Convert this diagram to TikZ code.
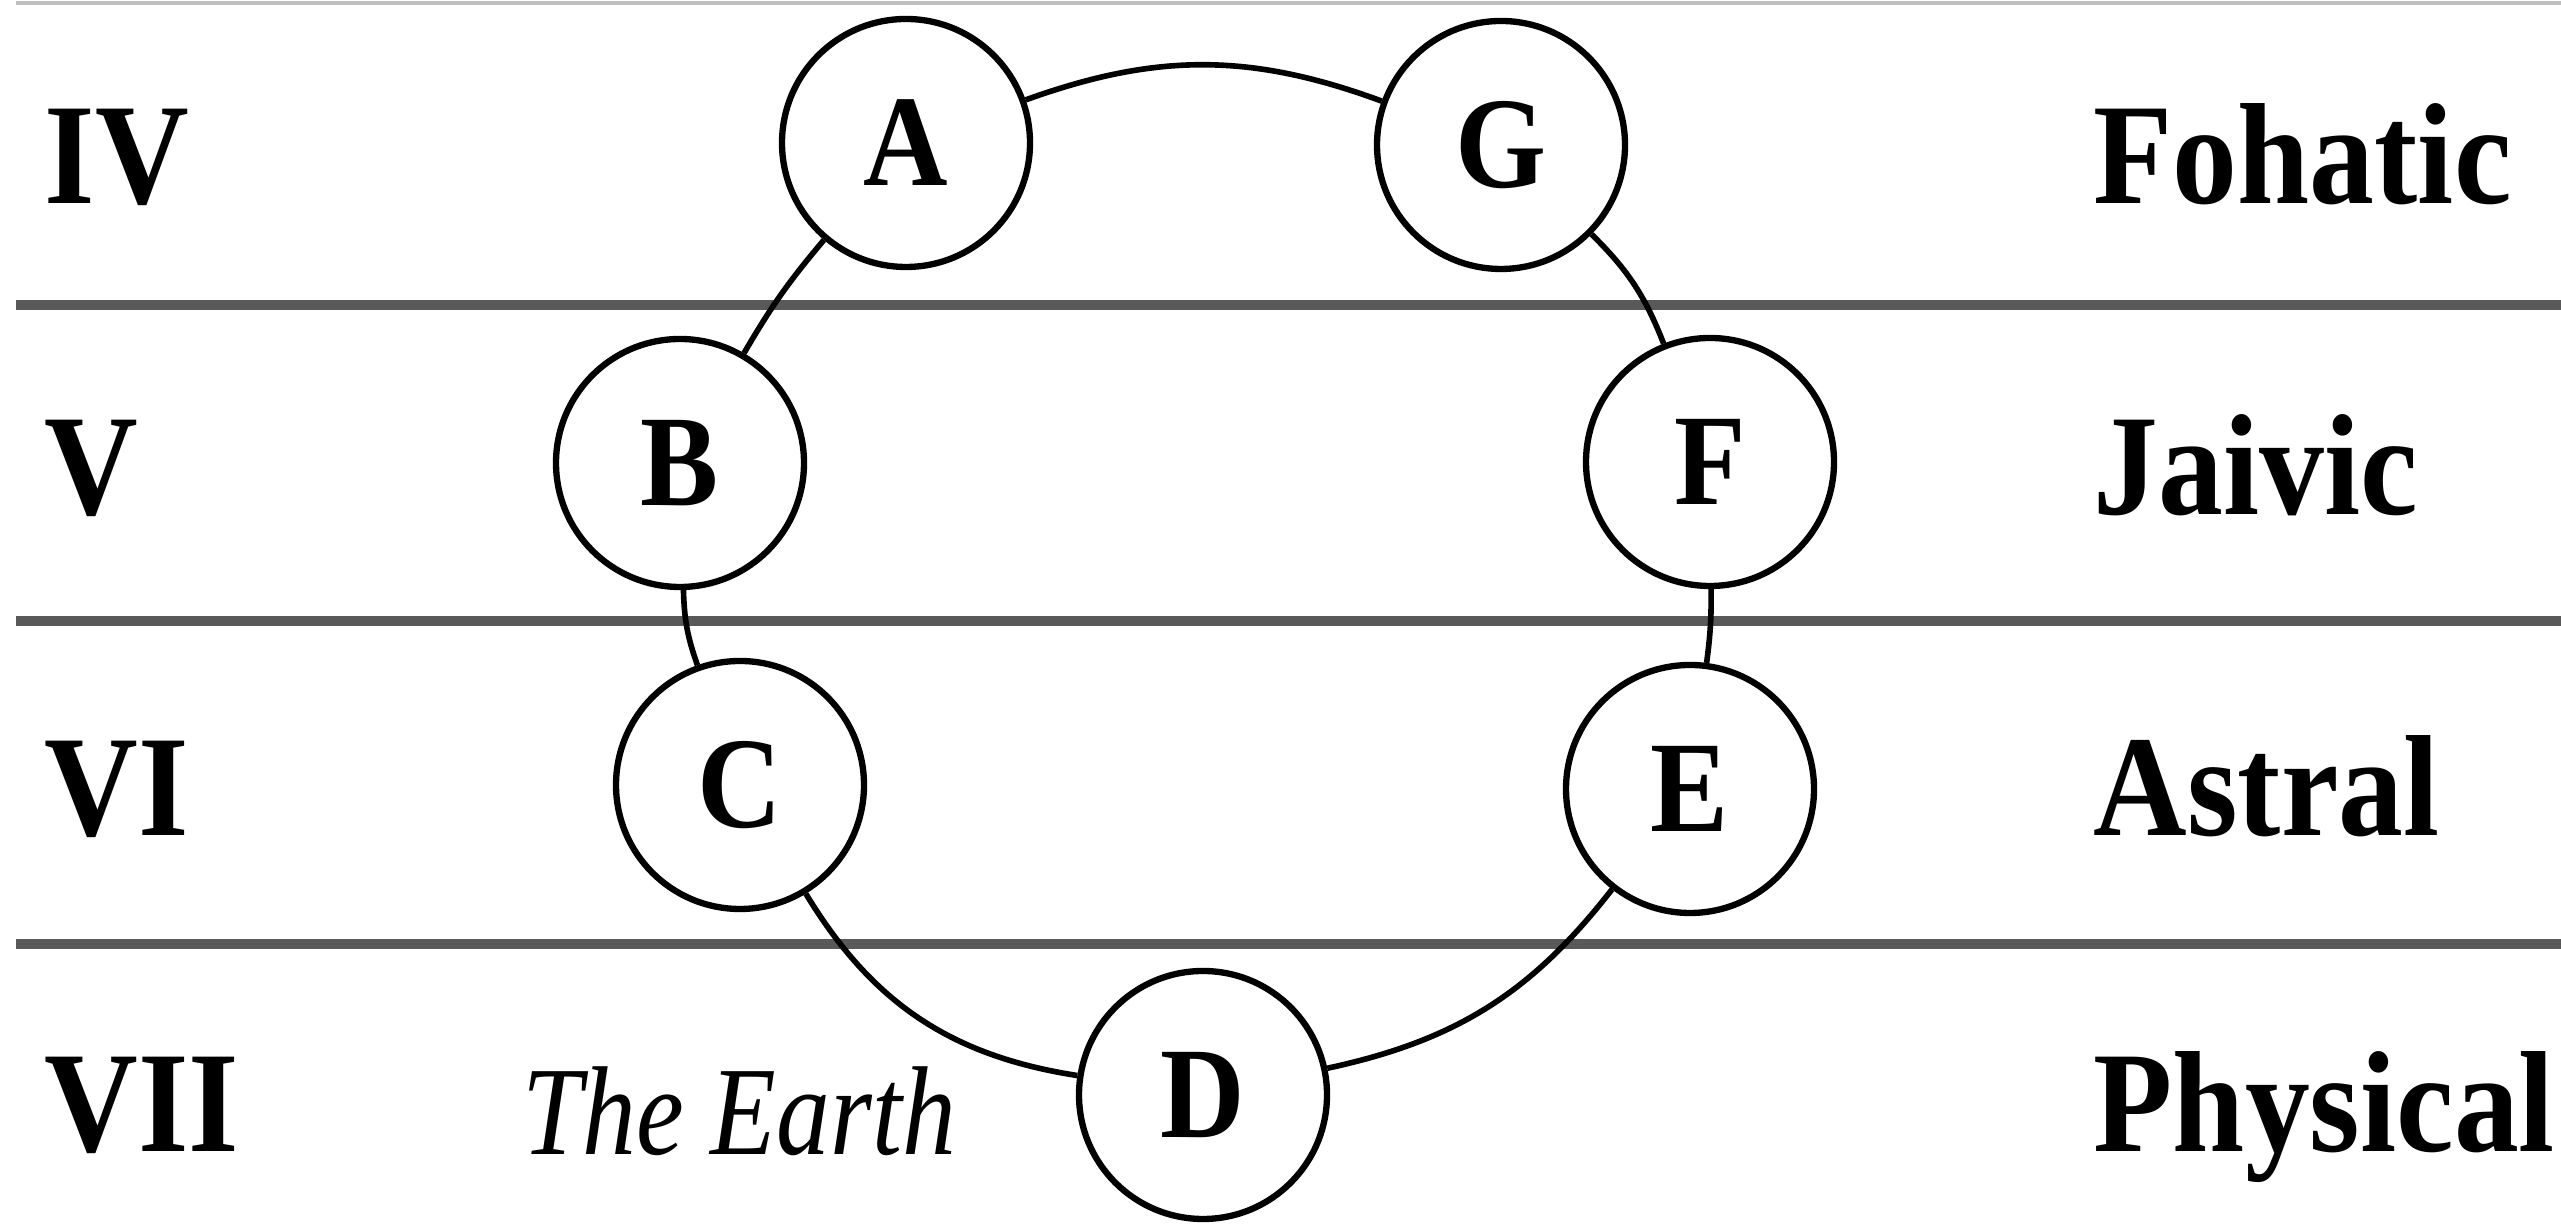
\documentclass[tikz,border=0pt]{standalone}
\usepackage{fontspec}
\setmainfont{Liberation Serif}
\newfontfamily\planefont[FakeStretch=0.9]{Liberation Serif}
\newfontfamily\earthfont[FakeStretch=0.85]{Liberation Serif}
\tikzset{
    plane/.style={draw=black!65, line width=3pt},
    globe/.style={circle, draw, fill=white, line width=1.8pt, minimum size=2.48cm, inner sep=0pt,
        font=\planefont\fontsize{37}{37}\selectfont\bfseries},
    chain/.style={line width=1.6pt},
    rank/.style={anchor=base west, inner sep=0pt, font=\planefont\fontsize{41}{41}\selectfont\bfseries}
}
\begin{document}
\begin{tikzpicture}
    \useasboundingbox (0,0) rectangle (25.61,12.25);
    % planes
    \draw [black!25, line width=1pt] (0.16,12.22) -- (25.61,12.22);
    \foreach \y in {9.20,6.04,2.81}
        \draw [plane] (0.16,\y) -- (25.61,\y);
    % globes
    \node [globe] (A) at (9.06,10.82) {A};
    \node [globe] (B) at (6.80,7.62) {B};
    \node [globe] (C) at (7.40,4.40) {C};
    \node [globe] (D) at (12.03,1.30) {D};
    \node [globe] (E) at (16.90,4.36) {E};
    \node [globe] (F) at (17.10,7.63) {F};
    \node [globe] (G) at (15.01,10.80) {G};
    % chain
    \draw [chain] (A) to[bend right=5] (B);
    \draw [chain] (B) to[bend right=9] (C);
    \draw [chain] (C) to[bend right=25] (D);
    \draw [chain] (D) to[bend right=20] (E);
    \draw [chain] (E) to[bend right=4] (F);
    \draw [chain] (F) to[bend right=12] (G);
    \draw [chain] (G) to[bend right=20] (A);
    % lecter
    \node [rank] (r4) at (0.44,10.21) {IV};
    \node [rank] (r5) at (0.44,7.10) {V};
    \node [rank] (r6) at (0.44,3.89) {VI};
    \node [rank] (r7) at (0.44,0.73) {VII};
    \node [rank] (fohatic) at (20.93,10.21) {Fohatic};
    \node [rank] (jaivic) at (20.93,7.10) {Jaivic};
    \node [rank] (astral) at (20.93,3.89) {Astral};
    \node [rank] (physical) at (20.93,0.73) {Physical};
    \node [anchor=base west, inner sep=0pt, font=\earthfont\fontsize{36}{36}\selectfont\itshape] (earth) at (5.22,0.70) {The Earth};
\end{tikzpicture}
\end{document}
